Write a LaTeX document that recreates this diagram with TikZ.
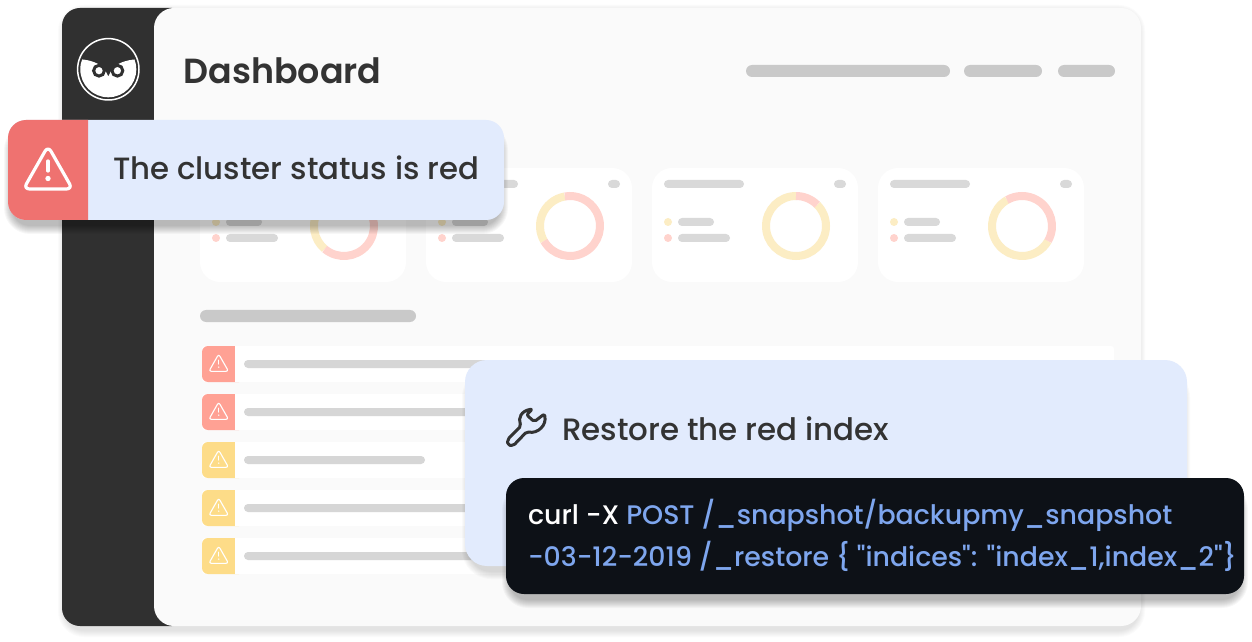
\documentclass[tikz,border=0pt]{standalone}
\usepackage{fontspec}
\setmainfont{Poppins}
\newfontfamily\semifont{Poppins SemiBold}
\newfontfamily\medfont{Poppins Medium}
\definecolor{ink}{HTML}{333333}
\definecolor{side}{HTML}{303030}
\definecolor{panel}{HTML}{FAFAFA}
\definecolor{alertred}{HTML}{EF7270}
\definecolor{soft}{HTML}{E2EBFD}
\definecolor{codebg}{HTML}{0D1117}
\definecolor{codeblue}{HTML}{7EA6EE}
\definecolor{dyellow}{HTML}{FCEDC4}
\definecolor{dpink}{HTML}{FFD3CD}
\definecolor{pillgrey}{HTML}{D9D9D9}
\definecolor{headgrey}{HTML}{C9C9C9}
\definecolor{rowgrey}{HTML}{D6D6D6}
\definecolor{iconred}{HTML}{FFA194}
\definecolor{iconyellow}{HTML}{FDDC88}
\tikzset{
  x=1bp,y=-1bp,
  pill/.style={fill=pillgrey,rounded corners=4bp},
  txt/.style={inner sep=0pt,outer sep=0pt,anchor=base west},
  ring/.style={line width=8bp},
}
% soft shadow: x0 y0 x1 y1 radius spread opacity
\newcommand{\softshadow}[7]{%
  \foreach \s in {1,...,#6}{%
    \pgfmathsetmacro{\rr}{#5+#6-\s}
    \fill[black,fill opacity=#7,rounded corners=\rr bp]
      (#1-#6+\s,#2-#6+\s) rectangle (#3+#6-\s,#4+#6-\s);
  }}
\newcommand{\warntri}[6]{% cx, apex y, scale, line width, colour, dot radius
  \begin{scope}[shift={(#1,#2)},x=#3bp,y=-#3bp]
    \draw[#5,line width=#4bp,line join=round,rounded corners=6bp*#3,fill=none]
      (0,-1) -- (24.5,42) -- (-24.5,42) -- cycle;
    \draw[#5,line width=#4bp,line cap=round] (0,14) -- (0,24);
    \fill[#5] (0,31.5) circle[radius=#6];
  \end{scope}}
\newcommand{\rowitem}[3]{% top y, icon colour, bar end
  \fill[white,rounded corners=3bp] (202,#1) rectangle (1114,#1+36);
  \fill[#2,rounded corners=6bp] (202,#1) rectangle (245,#1+36);
  \fill[white] (235,#1) rectangle (247,#1+36);
  \warntri{218.7}{#1+8.5}{0.40}{1.1}{white}{2}
  \fill[rowgrey,rounded corners=4bp] (244,#1+14) rectangle (#3,#1+22);
}
\newcommand{\cardbox}[5]{% left; donut angles: ya yb pa pb
  \fill[white,rounded corners=20bp] (#1,168) rectangle (#1+206,282);
  \fill[pill] (#1+12,180) rectangle (#1+92,188);
  \fill[pillgrey,rounded corners=4bp] (#1+182,180) rectangle (#1+194,188);
  \fill[dyellow] (#1+16,222) circle[radius=4];
  \fill[dpink] (#1+16,238) circle[radius=4];
  \fill[pill] (#1+26,218) rectangle (#1+62,226);
  \fill[pill] (#1+26,234) rectangle (#1+78,242);
  \begin{scope}[shift={(#1+144,226)},x=1bp,y=1bp]
    \draw[ring,dyellow] (#2:30) arc[start angle=#2,end angle=#3,radius=30];
    \draw[ring,dpink] (#4:30) arc[start angle=#4,end angle=#5,radius=30];
  \end{scope}
}
\begin{document}
\begin{tikzpicture}
\useasboundingbox (0,0) rectangle (1252,642);
\fill[white] (0,0) rectangle (1252,642);

% main frame
\softshadow{64}{11}{1139}{631}{20}{7}{0.014}
\fill[side,rounded corners=18bp] (62,8) rectangle (190,626);
\fill[panel,rounded corners=20bp] (154,8) rectangle (1141,626);

% logo
\begin{scope}
  \clip (108.3,69.3) circle[radius=28];
  \fill[white] (76,59.3) -- (80.7,59.3) .. controls (90,60) and (100,63) .. (105,70)
     -- (108.3,76.5) -- (111.6,70) .. controls (116,63) and (127,60) .. (136,59.3)
     -- (142,59.3) -- (142,100) -- (76,100) -- cycle;
\end{scope}
\draw[white,line width=1.5bp] (108.3,69.3) circle[radius=30.7];
\draw[side,line width=3bp,fill=white] (99,70.7) circle[radius=5.4];
\draw[side,line width=3bp,fill=white] (117.4,70.7) circle[radius=5.4];

\node[txt,text=ink,font=\semifont\fontsize{35}{40}\selectfont] (dash) at (183.5,83.5) {Dashboard};

% header bars
\fill[headgrey,rounded corners=6bp] (746,65) rectangle (950,77);
\fill[headgrey,rounded corners=6bp] (964,65) rectangle (1042,77);
\fill[headgrey,rounded corners=6bp] (1058,65) rectangle (1115,77);

% stat cards
\cardbox{200}{100}{230}{230}{460}
\cardbox{426}{100}{210}{210}{460}
\cardbox{652}{90}{405}{45}{90}
\cardbox{878}{120}{330}{-30}{120}

% list
\fill[headgrey,rounded corners=6bp] (200,310) rectangle (416,322);
\rowitem{346}{iconred}{520}
\rowitem{394}{iconred}{520}
\rowitem{442}{iconyellow}{425}
\rowitem{490}{iconyellow}{520}
\rowitem{538}{iconyellow}{520}

% alert
\softshadow{12}{132}{500}{226}{18}{9}{0.03}
\fill[soft,rounded corners=18bp] (8,120) rectangle (504,220);
\begin{scope}
  \clip (8,120) rectangle (88,220);
  \fill[alertred,rounded corners=18bp] (8,120) rectangle (120,220);
\end{scope}
\warntri{48}{147}{1}{3.2}{white}{2.7}
\node[txt,text=ink,font=\medfont\fontsize{30.9}{36}\selectfont] (alerttext) at (113,180) {The cluster status is red};

% restore card
\softshadow{469}{375}{1183}{572}{22}{8}{0.02}
\fill[soft,rounded corners=22bp] (465,360) rectangle (1187,566);
\draw[ink,line width=3bp,line join=round,rounded corners=2bp]
  (507.7,439.3) -- (521,426) .. controls (518,418) and (521,411) .. (532.3,409)
  -- (526.7,415) -- (534.3,421.7) -- (544.3,414)
  .. controls (547,425) and (538,434) .. (526.7,431.7)
  -- (513.3,445.7) -- (507.7,445) -- cycle;
\node[txt,text=ink,font=\medfont\fontsize{31}{36}\selectfont] (restore) at (562,440) {Restore the red index};

% code
\softshadow{510}{492}{1240}{600}{18}{9}{0.032}
\fill[codebg,rounded corners=18bp] (506,478) rectangle (1244,594);
\node[txt,text=white,font=\medfont\fontsize{26.93}{32}\selectfont] (codea) at (528,524) {curl -X \textcolor{codeblue}{POST /\_snapshot/backupmy\_snapshot}};
\node[txt,text=codeblue,font=\medfont\fontsize{26.9}{32}\selectfont] (codeb) at (528,566) {-03-12-2019 /\_restore \{ "indices": "index\_1,index\_2"\}};
\end{tikzpicture}
\end{document}
